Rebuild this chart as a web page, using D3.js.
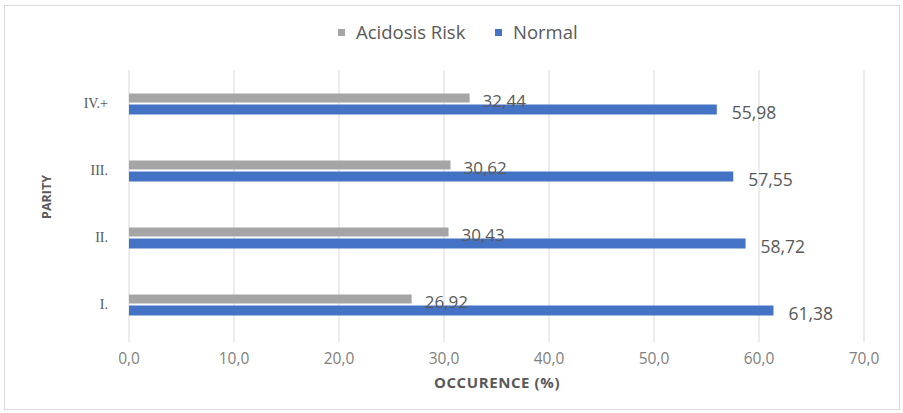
<!DOCTYPE html>
<html>
<head>
<meta charset="utf-8">
<script src="https://cdn.jsdelivr.net/npm/d3@7"></script>
<style>
  body { margin: 0; background: #fff; }
</style>
</head>
<body>
<div id="chart"></div>
<script>
// chart data
var categories = ["IV.+", "III.", "II.", "I."];
var acidosis = [32.44, 30.62, 30.43, 26.92];
var normal = [55.98, 57.55, 58.72, 61.38];
var xTicks = [0, 10, 20, 30, 40, 50, 60, 70];
var seriesNames = ["Acidosis Risk", "Normal"];

var W = 903, H = 413;
var margin = { top: 70, right: 39, bottom: 75, left: 129 };
var width = W - margin.left - margin.right,
    height = H - margin.top - margin.bottom;
var sans = "'Open Sans', 'DejaVu Sans', sans-serif";

var svg = d3.select("#chart")
  .append("svg")
    .attr("width", W)
    .attr("height", H)
    .style("font-family", sans);

// outer frame
svg.append("rect")
  .attr("x", 4.5).attr("y", 5.5)
  .attr("width", W - 8).attr("height", H - 9)
  .attr("fill", "none")
  .attr("stroke", "#d9d9d9");

var g = svg.append("g")
  .attr("transform", "translate(" + margin.left + "," + margin.top + ")");

var x = d3.scaleLinear()
  .domain([0, 70])
  .range([0, width]);

var y = d3.scaleBand()
  .domain(categories)
  .range([0, height]);

// gridlines
g.selectAll(".grid")
  .data(xTicks)
  .enter().append("line")
    .attr("x1", d => x(d)).attr("x2", d => x(d))
    .attr("y1", 0).attr("y2", height + 4)
    .attr("stroke", "#d9d9d9")
    .attr("stroke-width", 1);

// x tick labels
g.selectAll(".xtick")
  .data(xTicks)
  .enter().append("text")
    .attr("x", d => x(d))
    .attr("y", height + 26)
    .attr("text-anchor", "middle")
    .attr("font-size", 15.5)
    .attr("fill", "#7f7f7f")
    .text(d => d.toFixed(1).replace(".", ","));

// category labels
g.selectAll(".ytick")
  .data(categories)
  .enter().append("text")
    .attr("x", -21)
    .attr("y", d => y(d) + y.bandwidth() / 2 + 4)
    .attr("text-anchor", "end")
    .attr("font-size", 14)
    .style("font-family", "'Liberation Serif', 'DejaVu Serif', serif")
    .attr("fill", "#595959")
    .text(d => d);

var barH = 9;

// gray bars
g.selectAll(".bar-a")
  .data(categories)
  .enter().append("rect")
    .attr("x", 0)
    .attr("y", d => y(d) + y.bandwidth() / 2 - 10)
    .attr("width", (d, i) => x(acidosis[i]))
    .attr("height", barH)
    .attr("fill", "#a5a5a5");

// blue bars
g.selectAll(".bar-n")
  .data(categories)
  .enter().append("rect")
    .attr("x", 0)
    .attr("y", d => y(d) + y.bandwidth() / 2 + 1)
    .attr("width", (d, i) => x(normal[i]))
    .attr("height", barH + 1)
    .attr("fill", "#4472c4");

// value labels
g.selectAll(".lab-a")
  .data(categories)
  .enter().append("text")
    .attr("x", (d, i) => x(acidosis[i]) + 13)
    .attr("y", d => y(d) + y.bandwidth() / 2 + 3)
    .attr("font-size", 17)
    .attr("fill", "#595959")
    .text((d, i) => acidosis[i].toFixed(2).replace(".", ","));

g.selectAll(".lab-n")
  .data(categories)
  .enter().append("text")
    .attr("x", (d, i) => x(normal[i]) + 15)
    .attr("y", d => y(d) + y.bandwidth() / 2 + 15)
    .attr("font-size", 17.5)
    .attr("fill", "#595959")
    .text((d, i) => normal[i].toFixed(2).replace(".", ","));

// axis titles
svg.append("text")
  .attr("x", 497)
  .attr("y", 388)
  .attr("text-anchor", "middle")
  .attr("font-size", 15)
  .attr("font-weight", "bold")
  .attr("letter-spacing", 0.6)
  .attr("fill", "#595959")
  .text("OCCURENCE (%)");

svg.append("text")
  .attr("transform", "translate(51,197) rotate(-90)")
  .attr("text-anchor", "middle")
  .attr("font-size", 12.5)
  .attr("font-weight", "bold")
  .attr("fill", "#595959")
  .text("PARITY");

// legend
var legColors = ["#a5a5a5", "#4472c4"];
var legX = [338, 495];
var leg = svg.selectAll(".leg")
  .data(seriesNames)
  .enter().append("g")
    .attr("transform", (d, i) => "translate(" + legX[i] + ",33)");
leg.append("rect")
  .attr("x", 0).attr("y", -4)
  .attr("width", 7).attr("height", 7)
  .attr("fill", (d, i) => legColors[i]);
leg.append("text")
  .attr("x", 18)
  .attr("y", 6)
  .attr("font-size", 18.5)
  .attr("fill", "#595959")
  .text(d => d);
</script>
</body>
</html>
